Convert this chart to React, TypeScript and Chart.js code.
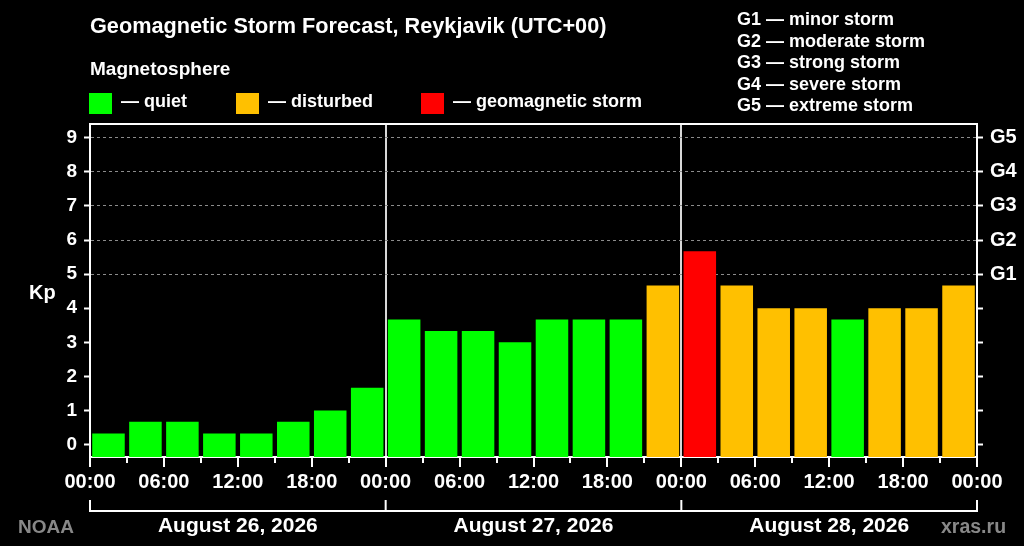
import { useEffect, useRef } from "react";
import { Chart, registerables } from "chart.js";
import type { Plugin } from "chart.js";

Chart.register(...registerables);

// Kp forecast, one value per 3-hour slot, three days
const kpValues = [
  0.33, 0.67, 0.67, 0.33, 0.33, 0.67, 1.0, 1.67,
  3.67, 3.33, 3.33, 3.0, 3.67, 3.67, 3.67, 4.67,
  5.67, 4.67, 4.0, 4.0, 3.67, 4.0, 4.0, 4.67,
];
const slotHours = 3;
const hourLabels = ["00:00", "06:00", "12:00", "18:00"];
const dayLabels = ["August 26, 2026", "August 27, 2026", "August 28, 2026"];
const kpTicks = [0, 1, 2, 3, 4, 5, 6, 7, 8, 9];
const stormLabels = ["G1", "G2", "G3", "G4", "G5"];
const stormNames = ["minor storm", "moderate storm", "strong storm", "severe storm", "extreme storm"];
const levelNames = ["quiet", "disturbed", "geomagnetic storm"];
const levelColors = ["#00ff00", "#ffc000", "#ff0000"];
const levelLeft = [89, 236, 421];

const Y_MIN = -0.36;
const Y_MAX = 9.4;
const TOTAL_HOURS = kpValues.length * slotHours;
const FONT = '"Liberation Sans", Arial, sans-serif';

const levelOf = (v: number) => (v >= 5 ? 2 : v >= 4 ? 1 : 0);

const frame: Plugin = {
  id: "frame",
  afterDraw(chart) {
    const { ctx, chartArea } = chart;
    const x = chart.scales.x;
    ctx.save();
    ctx.strokeStyle = "#ffffff";
    ctx.lineWidth = 2;
    // top border
    ctx.beginPath();
    ctx.moveTo(chartArea.left - 1, chartArea.top);
    ctx.lineTo(chartArea.right + 1, chartArea.top);
    ctx.stroke();
    // day bracket
    const yLine = 511;
    const yTop = 500;
    ctx.beginPath();
    ctx.moveTo(x.getPixelForValue(0), yLine);
    ctx.lineTo(x.getPixelForValue(TOTAL_HOURS), yLine);
    for (let d = 0; d <= dayLabels.length; d++) {
      const px = x.getPixelForValue(d * 24);
      ctx.moveTo(px, yTop);
      ctx.lineTo(px, yLine + 1);
    }
    ctx.stroke();
    ctx.fillStyle = "#ffffff";
    ctx.font = `bold 21px ${FONT}`;
    ctx.textAlign = "center";
    ctx.textBaseline = "middle";
    dayLabels.forEach((l, i) => ctx.fillText(l, x.getPixelForValue(i * 24 + 12), 526));
    ctx.restore();
  },
};

export default function App() {
  const canvasRef = useRef<HTMLCanvasElement>(null);

  useEffect(() => {
    if (!canvasRef.current) return;
    Chart.defaults.font.family = FONT;
    const chart = new Chart(canvasRef.current, {
      type: "bar",
      data: {
        datasets: [
          {
            data: kpValues.map((v, i) => ({ x: i * slotHours + slotHours / 2, y: v })),
            backgroundColor: kpValues.map((v) => levelColors[levelOf(v)]),
            borderWidth: 0,
            base: Y_MIN,
            barPercentage: 0.88,
            categoryPercentage: 1,
          },
        ],
      },
      options: {
        responsive: false,
        animation: false,
        layout: { padding: { top: 124, left: 0, right: 0, bottom: 0 } },
        plugins: { legend: { display: false }, tooltip: { enabled: false }, title: { display: false } },
        scales: {
          x: {
            type: "linear",
            min: 0,
            max: TOTAL_HOURS,
            offset: false,
            afterFit: (s) => { s.height = 89; },
            border: { color: "#ffffff", width: 2 },
            grid: {
              offset: false,
              color: (c) => (c.tick && c.tick.value % 24 === 0 && c.tick.value > 0 && c.tick.value < TOTAL_HOURS ? "#d8d8d8" : "transparent"),
              lineWidth: 2,
              tickColor: "#ffffff",
              tickWidth: 2,
              tickLength: 10,
              tickBorderDash: (c) => (c.tick && c.tick.value % 6 !== 0 ? [5, 50] : []),
            },
            ticks: {
              stepSize: slotHours,
              autoSkip: false,
              maxRotation: 0,
              color: "#ffffff",
              padding: 3,
              font: { size: 20, weight: "bold" },
              callback: (v) => (Number(v) % 6 === 0 ? hourLabels[(Number(v) % 24) / 6] : ""),
            },
          },
          y: {
            position: "left",
            min: Y_MIN,
            max: Y_MAX,
            afterFit: (s) => { s.width = 90; },
            afterBuildTicks: (s) => { s.ticks = kpTicks.map((v) => ({ value: v })); },
            border: { color: "#ffffff", width: 2, dash: [3, 3] },
            grid: {
              color: (c) => (c.tick && c.tick.value >= 5 ? "#8c8c8c" : "transparent"),
              lineWidth: 1,
              tickColor: "#ffffff",
              tickWidth: 2,
              tickLength: 6,
            },
            ticks: { color: "#ffffff", padding: 7, font: { size: 19, weight: "bold" } },
          },
          y2: {
            position: "right",
            min: Y_MIN,
            max: Y_MAX,
            afterFit: (s) => { s.width = 47; },
            afterBuildTicks: (s) => { s.ticks = kpTicks.map((v) => ({ value: v })); },
            border: { color: "#ffffff", width: 2 },
            grid: { drawOnChartArea: false, tickColor: "#ffffff", tickWidth: 2, tickLength: 6 },
            ticks: {
              color: "#ffffff",
              padding: 7,
              font: { size: 20, weight: "bold" },
              callback: (v) => (Number(v) >= 5 ? stormLabels[Number(v) - 5] : ""),
            },
          },
        },
      },
      plugins: [frame],
    });
    return () => chart.destroy();
  }, []);

  const text = (fs: number): React.CSSProperties => ({
    position: "absolute",
    fontSize: fs,
    lineHeight: 1,
    fontWeight: "bold",
    whiteSpace: "nowrap",
  });

  return (
    <div
      style={{
        position: "fixed",
        left: 0,
        top: 0,
        width: 1024,
        height: 546,
        background: "#000000",
        color: "#ffffff",
        fontFamily: FONT,
        overflow: "hidden",
      }}
    >
      <canvas ref={canvasRef} width={1024} height={546} style={{ position: "absolute", left: 0, top: 0 }} />
      <div style={{ ...text(21.7), left: 90, top: 15 }}>Geomagnetic Storm Forecast, Reykjavik (UTC+00)</div>
      <div style={{ ...text(19), left: 90, top: 59 }}>Magnetosphere</div>
      {levelNames.map((name, i) => (
        <div key={name}>
          <div style={{ position: "absolute", left: levelLeft[i], top: 92.5, width: 22.5, height: 21, background: levelColors[i] }} />
          <div style={{ ...text(18), left: levelLeft[i] + 32, top: 92 }}>— {name}</div>
        </div>
      ))}
      <div style={{ ...text(18), lineHeight: "21.5px", left: 737, top: 9.25 }}>
        {stormLabels.map((g, i) => (
          <div key={g}>{g} — {stormNames[i]}</div>
        ))}
      </div>
      <div style={{ ...text(20), left: 29, top: 282 }}>Kp</div>
      <div style={{ ...text(19), left: 18, top: 516.5, color: "#888888" }}>NOAA</div>
      <div style={{ ...text(19.5), left: 941, top: 516.5, color: "#888888" }}>xras.ru</div>
    </div>
  );
}
